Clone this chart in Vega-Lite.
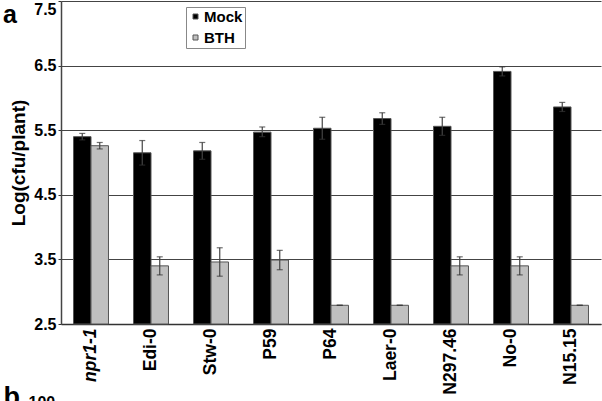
{
  "$schema": "https://vega.github.io/schema/vega-lite/v6.json",
  "width": 540,
  "height": 323,
  "autosize": "none",
  "padding": {"left": 61, "top": 1, "right": 1, "bottom": 77},
  "background": "white",
  "title": {"text": "a", "anchor": "start", "frame": "group", "fontSize": 25, "fontWeight": "bold", "font": "Liberation Sans", "color": "black", "dx": -58, "dy": 47, "offset": 0, "baseline": "alphabetic"},
  "config": {"view": {"stroke": null}, "font": "Liberation Sans"},
  "resolve": {"axis": {"y": "independent"}},
  "data": {"values": [
    {"strain": "npr1-1", "treatment": "Mock", "value": 5.40, "lo": 5.35, "hi": 5.45},
    {"strain": "npr1-1", "treatment": "BTH", "value": 5.26, "lo": 5.21, "hi": 5.31},
    {"strain": "Edi-0", "treatment": "Mock", "value": 5.15, "lo": 4.96, "hi": 5.34},
    {"strain": "Edi-0", "treatment": "BTH", "value": 3.40, "lo": 3.26, "hi": 3.54},
    {"strain": "Stw-0", "treatment": "Mock", "value": 5.18, "lo": 5.05, "hi": 5.31},
    {"strain": "Stw-0", "treatment": "BTH", "value": 3.46, "lo": 3.24, "hi": 3.68},
    {"strain": "P59", "treatment": "Mock", "value": 5.47, "lo": 5.40, "hi": 5.55},
    {"strain": "P59", "treatment": "BTH", "value": 3.49, "lo": 3.34, "hi": 3.64},
    {"strain": "P64", "treatment": "Mock", "value": 5.53, "lo": 5.36, "hi": 5.70},
    {"strain": "P64", "treatment": "BTH", "value": 2.79, "lo": 2.79, "hi": 2.79},
    {"strain": "Laer-0", "treatment": "Mock", "value": 5.68, "lo": 5.59, "hi": 5.77},
    {"strain": "Laer-0", "treatment": "BTH", "value": 2.79, "lo": 2.79, "hi": 2.79},
    {"strain": "N297.46", "treatment": "Mock", "value": 5.56, "lo": 5.42, "hi": 5.70},
    {"strain": "N297.46", "treatment": "BTH", "value": 3.40, "lo": 3.26, "hi": 3.54},
    {"strain": "No-0", "treatment": "Mock", "value": 6.41, "lo": 6.34, "hi": 6.48},
    {"strain": "No-0", "treatment": "BTH", "value": 3.40, "lo": 3.26, "hi": 3.54},
    {"strain": "N15.15", "treatment": "Mock", "value": 5.86, "lo": 5.79, "hi": 5.93},
    {"strain": "N15.15", "treatment": "BTH", "value": 2.79, "lo": 2.79, "hi": 2.79}
  ]},
  "encoding": {
    "x": {
      "field": "strain", "type": "nominal",
      "sort": ["npr1-1", "Edi-0", "Stw-0", "P59", "P64", "Laer-0", "N297.46", "No-0", "N15.15"],
      "scale": {"paddingInner": 0.417, "paddingOuter": 0.2085},
      "axis": {
        "title": "b", "titleFontSize": 27, "titleFontWeight": "bold", "titleColor": "black",
        "titleAnchor": "start", "titleAlign": "left", "titleX": -58, "titleY": 81, "titleBaseline": "alphabetic",
        "labelAngle": -90, "labelFontSize": 17.5, "labelFontWeight": "bold", "labelColor": "black",
        "labelFontStyle": {"condition": {"test": "datum.value == 'npr1-1'", "value": "italic"}, "value": "normal"},
        "ticks": false, "labelPadding": 4, "domainColor": "#333", "domainWidth": 1.5, "grid": false
      }
    },
    "xOffset": {"field": "treatment", "type": "nominal", "sort": ["Mock", "BTH"], "scale": {"paddingInner": 0, "paddingOuter": 0}}
  },
  "layer": [
    {
      "mark": {"type": "bar", "stroke": "#555", "strokeWidth": 1},
      "encoding": {
        "y": {
          "field": "value", "type": "quantitative",
          "scale": {"domain": [2.5, 7.5], "zero": false, "nice": false},
          "axis": {
            "orient": "left",
            "title": "Log(cfu/plant)", "titleFontSize": 19, "titleFontWeight": "bold", "titleColor": "black", "titlePadding": 5,
            "values": [2.5, 3.5, 4.5, 5.5, 6.5, 7.5], "format": ".1f",
            "labelFontSize": 16, "labelFontWeight": "bold", "labelColor": "black", "labelPadding": 2,
            "labelBaseline": {"condition": {"test": "datum.value == 7.5", "value": "top"}, "value": "middle"},
            "tickSize": 3, "tickColor": "#333",
            "grid": true, "gridColor": "#444", "gridWidth": 1, "gridOpacity": 1,
            "domainColor": "#444", "domainWidth": 1.5
          }
        },
        "y2": {"datum": 2.5},
        "fill": {
          "field": "treatment", "type": "nominal",
          "scale": {"domain": ["Mock", "BTH"], "range": ["#000000", "#c0c0c0"]},
          "legend": {
            "title": null, "orient": "none", "legendX": 125, "legendY": 6,
            "symbolType": "square", "symbolSize": 25, "symbolStrokeColor": "#555", "symbolStrokeWidth": 1,
            "labelFontSize": 15, "labelFontWeight": "bold", "labelColor": "black", "labelOffset": 1,
            "strokeColor": "#888", "padding": 2, "rowPadding": 5, "fillColor": "white"
          }
        }
      }
    },
    {
      "mark": {"type": "rule", "color": "#444", "strokeWidth": 1.2},
      "encoding": {"y": {"field": "lo", "type": "quantitative", "axis": null}, "y2": {"field": "hi"}}
    },
    {
      "mark": {"type": "tick", "orient": "horizontal", "color": "#333", "size": 6, "thickness": 1.2},
      "encoding": {"y": {"field": "lo", "type": "quantitative", "axis": null}}
    },
    {
      "mark": {"type": "tick", "orient": "horizontal", "color": "#333", "size": 6, "thickness": 1.2},
      "encoding": {"y": {"field": "hi", "type": "quantitative", "axis": {
        "orient": "right", "labels": false, "ticks": false, "domain": false, "grid": false,
        "title": "100", "titleAngle": 0, "titleFontSize": 16, "titleFontWeight": "bold", "titleColor": "black",
        "titleAlign": "left", "titleBaseline": "alphabetic", "titleX": -573, "titleY": 406
      }}}
    }
  ]
}
